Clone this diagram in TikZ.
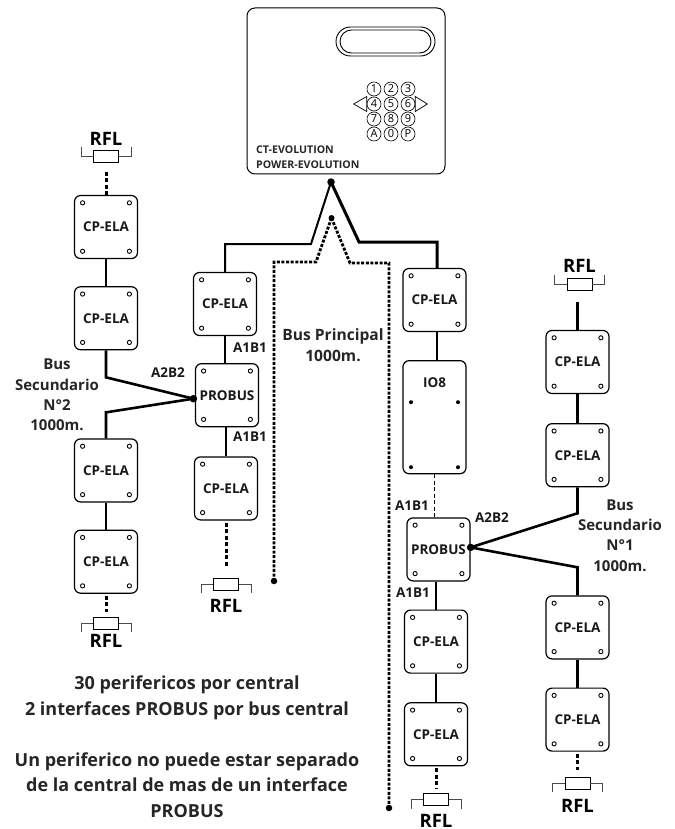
\documentclass[tikz,border=0pt]{standalone}
\usepackage{fontspec}
\setmainfont{Open Sans}
\usetikzlibrary{positioning, calc}

\tikzset{
	unit/.style={draw, line width=1.2pt, rounded corners=6pt, minimum width=63pt, minimum height=63pt, inner sep=0pt, fill=white, font=\fontsize{13.5}{15}\selectfont\bfseries, text=black!90,
		path picture={
			\foreach \sx/\sy in {1/1, -1/1, 1/-1, -1/-1} {
				\draw[line width=0.9pt] ($(path picture bounding box.center)+(\sx*23.4pt,\sy*24.2pt)$) circle (2.1pt);
			}
		}},
	tall/.style={draw, line width=1.2pt, rounded corners=6pt, minimum width=63pt, minimum height=113pt, inner sep=0pt},
	key/.style={draw, circle, line width=0.6pt, minimum size=14pt, inner sep=0pt, font=\fontsize{11}{11}\selectfont},
	res/.style={draw, line width=0.9pt, minimum width=25pt, minimum height=12pt, inner sep=0pt},
	lead/.style={line width=0.9pt, black!70},
	bus/.style={line width=2.6pt, black},
	busfine/.style={line width=2.8pt, dash pattern=on 3pt off 1.6pt},
	stub/.style={line width=3pt, dash pattern=on 4pt off 2.5pt},
	dotend/.style={circle, fill=black, inner sep=0pt, minimum size=7.5pt},
	pin/.style={circle, fill=black, inner sep=0pt, minimum size=4pt},
	tag/.style={font=\fontsize{13.5}{15}\selectfont\bfseries, text=black!90, align=center},
	rfl/.style={font=\fontsize{18.5}{19}\selectfont\bfseries, text=black, inner sep=0pt, outer sep=0pt},
	busname/.style={font=\fontsize{15}{20.4}\selectfont\bfseries, text=black!85, align=center},
	note/.style={font=\fontsize{18}{25.6}\selectfont\bfseries, text=black!85, align=center}
}

\begin{document}
\begin{tikzpicture}[x=1pt, y=-1pt]

	\useasboundingbox (0,0) rectangle (674,829);

	% central
	\node[draw, line width=1pt, rounded corners=8pt, minimum width=198pt, minimum height=166pt, inner sep=0pt] (central) at (346,91) {};
	\node[draw, line width=0.9pt, rounded corners=14.5pt, minimum width=99pt, minimum height=29pt] (screen) at (385.5,41.5) {};
	\node[draw, line width=0.9pt, rounded corners=11.5pt, minimum width=91pt, minimum height=23pt] (screenin) at (385.5,41.5) {};

	\foreach \txt [count=\i from 0] in {1,2,3,4,5,6,7,8,9,A,0,P} {
		\pgfmathsetmacro{\kx}{374+17*mod(\i,3)}
		\pgfmathsetmacro{\ky}{89+15*int(\i/3)}
		\node[key] (key\i) at (\kx,\ky) {\txt};
	}
	\draw[line width=0.7pt] (key3.west) ++(-13pt,0pt) -- ++(13pt,7.5pt) -- ++(0pt,-15pt) -- cycle;
	\draw[line width=0.7pt] (key5.east) ++(12pt,0pt) -- ++(-12pt,7.5pt) -- ++(0pt,-15pt) -- cycle;

	\node[font=\fontsize{10.6}{15}\selectfont\bfseries, text=black!85, align=left, inner sep=0pt, anchor=south west] (name) at (256,169) {CT-EVOLUTION\\POWER-EVOLUTION};

	% column with PROBUS on the left
	\node[unit] (a1) at (225,304) {CP-ELA};
	\node[unit, below=27pt of a1.south, anchor=north, xshift=2pt] (a2) {PROBUS};
	\node[unit, below=29pt of a2.south, anchor=north, xshift=-1pt] (a3) {CP-ELA};
	\node[res, below=57pt of a3.south, anchor=north] (ra) {};
	\node[rfl, below=9pt of ra] (ta) {RFL};

	% secondary bus 2
	\node[res] (rb) at (106,156.5) {};
	\node[rfl, above=5pt of rb] (tb) {RFL};
	\node[unit, below=32pt of rb.south, anchor=north] (b1) {CP-ELA};
	\node[unit, below=27pt of b1.south, anchor=north] (b2) {CP-ELA};
	\node[unit, below=88pt of b2.south, anchor=north] (b3) {CP-ELA};
	\node[unit, below=27pt of b3.south, anchor=north] (b4) {CP-ELA};
	\node[res, below=23pt of b4.south, anchor=north] (rc) {};
	\node[rfl, below=5pt of rc] (tc) {RFL};

	% column with IO8 and PROBUS
	\node[unit] (c1) at (434.5,300) {CP-ELA};
	\node[tall, below=28pt of c1.south, anchor=north] (c2) {};
	\node[tag, below=14pt of c2.north] (io) {IO8};
	\foreach \sx/\sy [count=\i] in {-1/-50, 1/-50, -1/15, 1/15} {
		\node[pin] (iopin\i) at ($(c2.center)+(\sx*23.5pt,\sy pt)$) {};
	}
	\node[unit, below=43pt of c2.south, anchor=north, xshift=4pt] (c3) {PROBUS};
	\node[unit, below=28pt of c3.south, anchor=north, xshift=-2.5pt] (c4) {CP-ELA};
	\node[unit, below=28.5pt of c4.south, anchor=north] (c5) {CP-ELA};
	\node[res, below=27pt of c5.south, anchor=north] (rd) {};
	\node[rfl, below=8pt of rd] (td) {RFL};

	% secondary bus 1
	\node[res] (re) at (579.5,284) {};
	\node[rfl, above=5pt of re] (te) {RFL};
	\node[unit] (d1) at (577.5,362) {CP-ELA};
	\node[unit, below=29pt of d1.south, anchor=north] (d2) {CP-ELA};
	\node[unit, below=108pt of d2.south, anchor=north] (d3) {CP-ELA};
	\node[unit, below=28pt of d3.south, anchor=north] (d4) {CP-ELA};
	\node[res, below=25pt of d4.south, anchor=north] (rf) {};
	\node[rfl, below=10pt of rf] (tf) {RFL};

	% resistor legs
	\foreach \rname/\dy in {ra/-9, rb/9, rc/-9, rd/-9, re/9, rf/-9} {
		\draw[lead] (\rname.west) -- ++(-12pt,0pt) -- ++(0pt,\dy pt);
		\draw[lead] (\rname.east) -- ++(12pt,0pt) -- ++(0pt,\dy pt);
	}

	% main bus
	\node[dotend] (top) at (331,182) {};
	\node[dotend, minimum size=6pt] (topb) at (331.5,218) {};
	\node[dotend, minimum size=6.5pt] (endl) at (274,581) {};
	\node[dotend, minimum size=6.5pt] (endr) at (389,808) {};
	\draw[bus, line width=2pt] (top.center) -- (311,244) -| (a1.north);
	\draw[bus, line width=3pt] (top.center) -- (359,242) -- (437,242) -- (437,268);
	\draw[busfine] (topb.center) -- (316,262) -| (endl.center);
	\draw[busfine] (topb.center) -- (350,263) -| (endr.center);

	% links
	\draw[bus] (a1) -- (a1|-a2.north);
	\draw[bus] (a3|-a2.south) -- (a3);
	\draw[stub, shorten <=2pt, shorten >=10pt] (a3) -- (ra);
	\draw[stub, shorten <=9pt] (rb) -- (b1);
	\draw[bus] (b1) -- (b2);
	\draw[bus] (b3) -- (b4);
	\draw[stub, shorten <=2pt, shorten >=5pt] (b4) -- (rc);
	\draw[bus] (c1.south-|437,0) -- (c2.north-|437,0);
	\draw[line width=1.6pt, dash pattern=on 4pt off 2.5pt] (c2.south) -- (c2.south|-c3.north);
	\draw[bus] (c4|-c3.south) -- (c4);
	\draw[bus] (c4) -- (c5);
	\draw[stub, shorten <=2pt, shorten >=5pt] (c5) -- (rd);
	\coordinate[above=28pt of d1.north] (wirestub);
	\draw[bus] (wirestub) -- (d1);
	\draw[bus] (d1) -- (d2);
	\draw[bus] (d3) -- (d4);
	\draw[stub, shorten <=2pt, shorten >=7pt] (d4) -- (rf);

	\node[dotend] (joinl) at ([xshift=-1.5pt, yshift=-3.5pt]a2.west) {};
	\draw[bus] (b2.south) -- ++(0pt,-27pt) -- (joinl.center);
	\draw[bus] (b3.north) -- ++(0pt,26pt) -- (joinl.center);

	\node[dotend] (joinr) at ([yshift=2pt]c3.east) {};
	\draw[bus] (d2.south) -- ++(0pt,-26pt) -- (joinr.center);
	\draw[bus] (d3.north) -- ++(0pt,28pt) -- (joinr.center);

	% labels
	\node[tag] (ab1) at (250,348) {A1B1};
	\node[tag] (ab2) at (250,437) {A1B1};
	\node[tag] (ab3) at (168,373) {A2B2};
	\node[tag] (ab4) at (412,506) {A1B1};
	\node[tag] (ab5) at (413,593) {A1B1};
	\node[tag] (ab6) at (492,518) {A2B2};
	\node[busname] (sec2) at (57,395) {Bus\\Secundario\\N°2\\1000m.};
	\node[busname] (sec1) at (620,535.5) {Bus\\Secundario\\N°1\\1000m.};
	\node[busname, font=\fontsize{15.6}{21}\selectfont\bfseries] (prin) at (333,345) {Bus Principal\\1000m.};

	\node[note] (note1) at (187,698) {30 perifericos por central\\2 interfaces PROBUS por bus central};
	\node[note] (note2) at (187,785) {Un periferico no puede estar separado\\de la central de mas de un interface\\PROBUS};

\end{tikzpicture}
\end{document}
